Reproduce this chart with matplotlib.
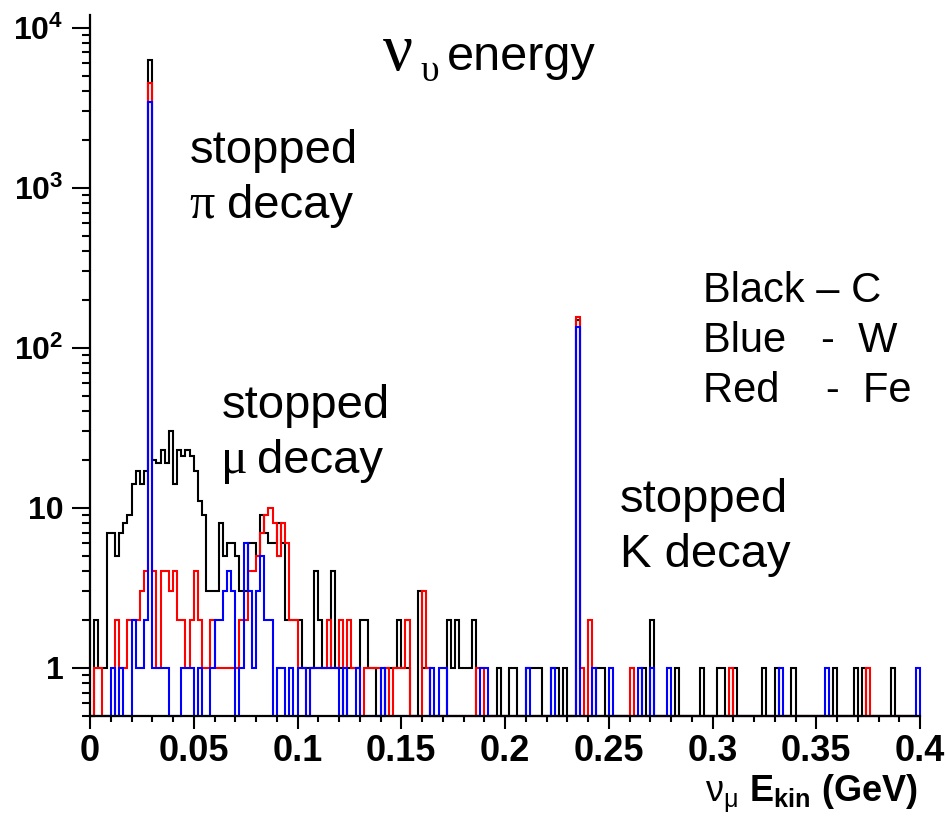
import numpy as np
import matplotlib
matplotlib.use('Agg')
import matplotlib.pyplot as plt
from matplotlib.ticker import LogLocator, MultipleLocator, NullFormatter

W, H = 946, 824

# 200 bins of 2 MeV between 0 and 0.4 GeV
edges = np.linspace(0, 0.4, 201)

# counts per bin (10 bins per row)
carbon = [
    0, 2, 1, 1, 7, 7, 5, 7, 8, 9,
    14, 17, 14, 17, 6300, 20, 19, 23, 19, 30,
    14, 23, 21, 23, 21, 17, 11, 9, 3, 3,
    3, 8, 5, 6, 6, 5, 3, 3, 6, 6,
    5, 9, 7, 6, 6, 8, 6, 2, 2, 2,
    2, 1, 1, 1, 4, 2, 1, 1, 4, 1,
    1, 0, 1, 1, 1, 2, 2, 1, 1, 0,
    0, 1, 1, 1, 2, 1, 1, 0, 0, 3,
    1, 1, 0, 0, 0, 0, 2, 1, 2, 1,
    1, 1, 2, 0, 0, 0, 0, 0, 1, 0,
    0, 1, 1, 0, 0, 1, 1, 1, 1, 0,
    0, 1, 1, 0, 1, 0, 0, 150, 0, 0,
    0, 0, 1, 1, 0, 0, 0, 0, 0, 0,
    0, 0, 0, 1, 0, 2, 0, 0, 0, 0,
    0, 1, 0, 0, 0, 0, 0, 1, 0, 0,
    0, 1, 1, 0, 0, 1, 0, 0, 0, 0,
    0, 0, 1, 0, 0, 1, 0, 0, 0, 1,
    0, 0, 0, 0, 0, 0, 0, 0, 0, 1,
    0, 0, 0, 0, 1, 0, 1, 0, 0, 0,
    0, 0, 0, 1, 0, 0, 0, 0, 0, 0,
]

iron = [
    0, 1, 1, 0, 0, 0, 2, 1, 1, 2,
    2, 2, 3, 4, 4500, 4, 1, 4, 4, 3,
    4, 2, 2, 1, 2, 4, 2, 1, 1, 2,
    1, 1, 1, 1, 1, 1, 2, 2, 4, 4,
    5, 7, 9, 10, 8, 5, 8, 6, 2, 2,
    1, 1, 0, 1, 1, 1, 1, 2, 1, 1,
    2, 1, 2, 1, 1, 0, 1, 1, 1, 1,
    0, 1, 0, 1, 1, 1, 2, 0, 0, 0,
    3, 1, 0, 0, 0, 0, 0, 0, 0, 0,
    0, 0, 0, 1, 1, 0, 0, 0, 0, 0,
    0, 0, 0, 0, 0, 0, 0, 0, 0, 0,
    0, 0, 0, 0, 0, 0, 0, 155, 1, 0,
    2, 0, 0, 0, 0, 0, 0, 0, 0, 0,
    1, 0, 0, 0, 0, 0, 0, 0, 0, 0,
    0, 0, 0, 0, 0, 0, 0, 0, 0, 0,
    0, 0, 0, 0, 1, 0, 0, 0, 0, 0,
    0, 0, 0, 0, 0, 0, 0, 0, 0, 0,
    0, 0, 0, 0, 0, 0, 0, 0, 0, 0,
    0, 0, 0, 0, 0, 0, 0, 1, 0, 0,
    0, 0, 0, 0, 0, 0, 0, 0, 0, 0,
]

tungsten = [
    0, 0, 0, 0, 0, 1, 0, 1, 0, 0,
    2, 1, 1, 2, 3450, 1, 1, 1, 1, 0,
    0, 0, 1, 1, 1, 0, 1, 0, 0, 1,
    2, 2, 3, 4, 3, 0, 1, 6, 3, 1,
    3, 5, 2, 2, 0, 1, 1, 0, 1, 0,
    1, 1, 0, 1, 1, 1, 1, 1, 1, 1,
    0, 1, 0, 0, 1, 0, 0, 0, 0, 0,
    1, 0, 0, 0, 0, 0, 0, 0, 0, 0,
    0, 0, 1, 0, 1, 1, 0, 0, 0, 0,
    0, 0, 0, 0, 1, 1, 0, 0, 0, 0,
    0, 0, 0, 0, 0, 1, 0, 0, 0, 0,
    0, 1, 0, 0, 0, 0, 0, 135, 0, 0,
    0, 1, 0, 0, 0, 1, 0, 0, 0, 0,
    0, 0, 1, 0, 0, 1, 0, 0, 0, 1,
    0, 0, 0, 0, 0, 0, 0, 0, 0, 0,
    0, 0, 0, 0, 0, 0, 0, 0, 0, 0,
    0, 0, 0, 0, 0, 0, 1, 0, 0, 0,
    0, 0, 0, 0, 0, 0, 0, 1, 0, 0,
    0, 0, 0, 0, 0, 0, 0, 0, 0, 0,
    0, 0, 0, 0, 0, 0, 0, 0, 0, 1,
]

xticks = [0, 0.05, 0.1, 0.15, 0.2, 0.25, 0.3, 0.35, 0.4]
xtick_labels = ['0', '0.05', '0.1', '0.15', '0.2', '0.25', '0.3', '0.35', '0.4']
yticks = [1, 10, 100, 1000, 10000]
ytick_labels = ['1', '10', r'$\mathbf{10^{2}}$', r'$\mathbf{10^{3}}$', r'$\mathbf{10^{4}}$']

plt.rcParams['font.family'] = ['Liberation Sans', 'DejaVu Sans']
plt.rcParams['mathtext.fontset'] = 'custom'
plt.rcParams['mathtext.rm'] = 'Liberation Sans'
plt.rcParams['mathtext.bf'] = 'Liberation Sans:bold'
plt.rcParams['mathtext.sf'] = 'Liberation Sans'
plt.rcParams['mathtext.it'] = 'Liberation Sans:italic'

ymin, ymax = 0.5, 1.2e4

fig = plt.figure(figsize=(W / 100, H / 100), dpi=100)
ax = fig.add_axes([90 / W, 1 - 716 / H, 830 / W, 701 / H])

# histograms, empty bins sit on the bottom of the frame
for counts, col in [(carbon, 'black'), (iron, 'red'), (tungsten, 'blue')]:
    v = np.array(counts, dtype=float)
    v[v <= 0] = ymin
    ax.stairs(v, edges, baseline=ymin, color=col, lw=1.5, clip_on=False)

ax.set_yscale('log')
ax.set_xlim(0, 0.4)
ax.set_ylim(ymin, ymax)

for s in ['top', 'right']:
    ax.spines[s].set_visible(False)
for s in ['left', 'bottom']:
    ax.spines[s].set_linewidth(1.6)

ax.set_xticks(xticks)
ax.set_xticklabels(xtick_labels, fontsize=26, fontweight='bold')
ax.xaxis.set_minor_locator(MultipleLocator(0.01))
ax.set_yticks(yticks)
ax.set_yticklabels(ytick_labels, fontsize=23, fontweight='bold')
ax.yaxis.set_minor_locator(LogLocator(base=10, subs=np.arange(2, 10)))
ax.yaxis.set_minor_formatter(NullFormatter())

ax.tick_params(axis='x', which='major', direction='out', length=9, width=1.5, pad=4)
ax.tick_params(axis='x', which='minor', direction='out', length=4.5, width=1.5)
ax.tick_params(axis='y', which='major', direction='out', length=13, width=1.5, pad=6)
ax.tick_params(axis='y', which='minor', direction='out', length=6, width=1.5)


def fx(px):
    return px / W


def fy(py):
    return 1 - py / H


# title  nu_upsilon energy
fig.text(fx(383), fy(70), 'ν', fontsize=48, family='Liberation Serif')
fig.text(fx(420), fy(81), 'υ', fontsize=27, family='Liberation Serif')
fig.text(fx(447), fy(70), 'energy', fontsize=35)

# annotations
fig.text(fx(190), fy(163), 'stopped', fontsize=34)
fig.text(fx(189), fy(218), 'π', fontsize=36, family='Liberation Serif')
fig.text(fx(227), fy(218), 'decay', fontsize=34)

fig.text(fx(222), fy(418), 'stopped', fontsize=34)
fig.text(fx(221), fy(473), 'μ', fontsize=36, family='Liberation Serif')
fig.text(fx(257), fy(473), 'decay', fontsize=34)

fig.text(fx(620), fy(512), 'stopped', fontsize=34)
fig.text(fx(620), fy(567), 'K decay', fontsize=34)

# colour key
fig.text(fx(703), fy(302), 'Black – C', fontsize=30)
fig.text(fx(703), fy(352), 'Blue   -  W', fontsize=30)
fig.text(fx(703), fy(402), 'Red    -  Fe', fontsize=30)

# x axis title
fig.text(fx(918), fy(802), r'$\mathsf{\nu}_{\mathsf{\mu}}$ $\mathbf{E_{kin}}$ (GeV)',
         fontsize=26, fontweight='bold', ha='right')

fig.savefig('out.png', dpi=100)
